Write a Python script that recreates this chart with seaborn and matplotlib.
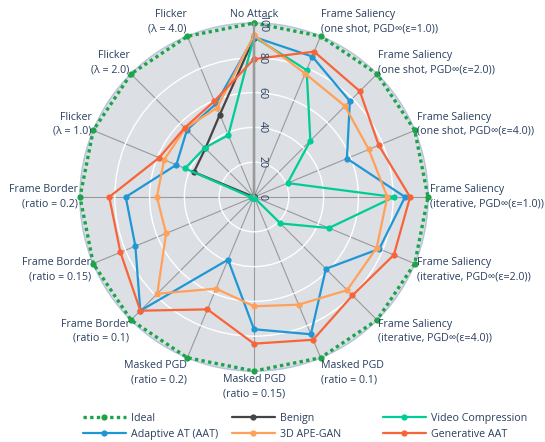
import numpy as np
import pandas as pd
import matplotlib
matplotlib.use("Agg")
import matplotlib.pyplot as plt
from matplotlib.lines import Line2D
import seaborn as sns

categories = [
    "No Attack",
    "Frame Saliency\n(one shot, PGD∞(ε=1.0))",
    "Frame Saliency\n(one shot, PGD∞(ε=2.0))",
    "Frame Saliency\n(one shot, PGD∞(ε=4.0))",
    "Frame Saliency\n(iterative, PGD∞(ε=1.0))",
    "Frame Saliency\n(iterative, PGD∞(ε=2.0))",
    "Frame Saliency\n(iterative, PGD∞(ε=4.0))",
    "Masked PGD\n(ratio = 0.1)",
    "Masked PGD\n(ratio = 0.15)",
    "Masked PGD\n(ratio = 0.2)",
    "Frame Border\n(ratio = 0.1)",
    "Frame Border\n(ratio = 0.15)",
    "Frame Border\n(ratio = 0.2)",
    "Flicker\n(λ = 1.0)",
    "Flicker\n(λ = 2.0)",
    "Flicker\n(λ = 4.0)",
]

ideal = [100] * 16
benign = [91.5, 0, 0, 0, 0, 0, 0, 0, 0, 0, 0, 0, 0, 37.4, 39.5, 51.3]
video_compression = [92, 79, 45.8, 20.9, 80.5, 46.6, 21.5, 0.5, 0.5, 0.5, 0.5, 1, 2, 42.9, 40, 38.5]
adaptive_at = [92, 87.4, 77.9, 57.8, 86.8, 77.9, 58.4, 85.4, 76, 39, 92.4, 73.8, 73.7, 48.3, 54.5, 57.7]
ape_gan = [93, 76.8, 73.9, 71.4, 76.6, 76.3, 75.7, 67, 62.8, 57, 78.6, 54.7, 55.8, 55.9, 55.8, 55.5]
generative_aat = [79.3, 90.4, 86, 77.6, 89.7, 87, 80, 88.8, 84.3, 69.9, 92.4, 83.1, 83.2, 59, 56.3, 59.6]

series_names = ["Ideal", "Benign", "Video Compression", "Adaptive AT (AAT)", "3D APE-GAN", "Generative AAT"]
series_values = [ideal, benign, video_compression, adaptive_at, ape_gan, generative_aat]
colors = ["#1ea34b", "#444444", "#00cc96", "#1f97d4", "#ffa15a", "#f8643a"]

radial_ticks = [0, 20, 40, 60, 80, 100]

sns.set_style("white")
plt.rcParams["font.family"] = ["Open Sans", "DejaVu Sans"]
text_color = "#2a3f5f"
fs = 7.7

W, H = 545, 442
fig = plt.figure(figsize=(W / 100, H / 100), dpi=100)
cx, cy, R = 254, 197, 174
ax = fig.add_axes([(cx - R) / W, (H - cy - R) / H, 2 * R / W, 2 * R / H], projection="polar")
ax.set_theta_zero_location("N")
ax.set_theta_direction(-1)
ax.set_facecolor("#dcdfe4")

n = len(categories)
angles = np.arange(n) * 2 * np.pi / n
closed_angles = np.append(angles, 2 * np.pi)

ideal_dash = [1.0, 1.0]
handles = {}
for name, vals, col in zip(series_names, series_values, colors):
    df = pd.DataFrame({"theta": closed_angles, "r": list(vals) + [vals[0]]})
    if name == "Ideal":
        sns.lineplot(data=df, x="theta", y="r", ax=ax, color=col, sort=False,
                     estimator=None, linewidth=2.4, marker="o", markersize=4.5,
                     markeredgewidth=0, clip_on=False, zorder=3)
        ln = ax.lines[-1]
        ln.set_dashes(ideal_dash)
        ln.set_dash_capstyle("butt")
    else:
        sns.lineplot(data=df, x="theta", y="r", ax=ax, color=col, sort=False,
                     estimator=None, linewidth=1.6, marker="o", markersize=4.5,
                     markeredgewidth=0, clip_on=False, zorder=4)
    handles[name] = ax.lines[-1]

ax.set_xlabel("")
ax.set_ylabel("")
if ax.get_legend():
    ax.get_legend().remove()

ax.set_ylim(0, 100)
ax.set_xticks(angles)
ax.set_xticklabels([])
ax.set_yticks(radial_ticks)
ax.set_yticklabels([])
ax.xaxis.grid(True, color="#9a9a9a", linewidth=0.8)
ax.yaxis.grid(True, color="white", linewidth=1.0)
ax.set_axisbelow(True)
ax.spines["polar"].set_color("#b6c6da")
ax.spines["polar"].set_linewidth(1.2)
# radial axis line drawn above the traces (as in the reference)
ax.axvline(0, color="#9a9a9a", linewidth=1.5, zorder=5)
ax.tick_params(pad=0, length=0)

# radial tick labels
for t in radial_ticks:
    ax.annotate(str(t), xy=(0, t), xytext=(6, 0), textcoords="offset points",
                rotation=-90, ha="center", va="center", fontsize=fs,
                color=text_color, annotation_clip=False, zorder=6)

# category labels
px = 0.72
for a, lab in zip(angles, categories):
    s, c = np.sin(a), np.cos(a)
    if s > 0.01:
        ha = "left"
    elif s < -0.01:
        ha = "right"
    else:
        ha = "center"
    nlines = lab.count("\n") + 1
    h = 15 * nlines
    pad = 1
    dx = 2 * s * px
    dy = (h / 2 + pad) * c * px
    ax.annotate(lab, xy=(a, 100), xytext=(dx, dy), textcoords="offset points",
                ha=ha, va="center", multialignment=ha, fontsize=fs,
                color=text_color, linespacing=1.4, annotation_clip=False)

# legend in three columns
col_groups = [["Ideal", "Adaptive AT (AAT)"], ["Benign", "3D APE-GAN"],
              ["Video Compression", "Generative AAT"]]
col_x = [83, 232, 383]
for names, x in zip(col_groups, col_x):
    hs = []
    for nm in names:
        src = handles[nm]
        h = Line2D([], [], color=src.get_color(), linewidth=src.get_linewidth(),
                   marker="o", markersize=4.5, markeredgewidth=0)
        if nm == "Ideal":
            h.set_dashes(ideal_dash)
            h.set_dash_capstyle("butt")
        hs.append(h)
    fig.legend(hs, names, loc="upper left", bbox_to_anchor=(x / W, 1 - 413 / H),
               frameon=False, fontsize=fs, handlelength=4.0, handletextpad=0.5,
               borderpad=0, borderaxespad=0, labelspacing=0.45, labelcolor=text_color,
               numpoints=1)

fig.savefig("out.png", dpi=100, facecolor="white")
